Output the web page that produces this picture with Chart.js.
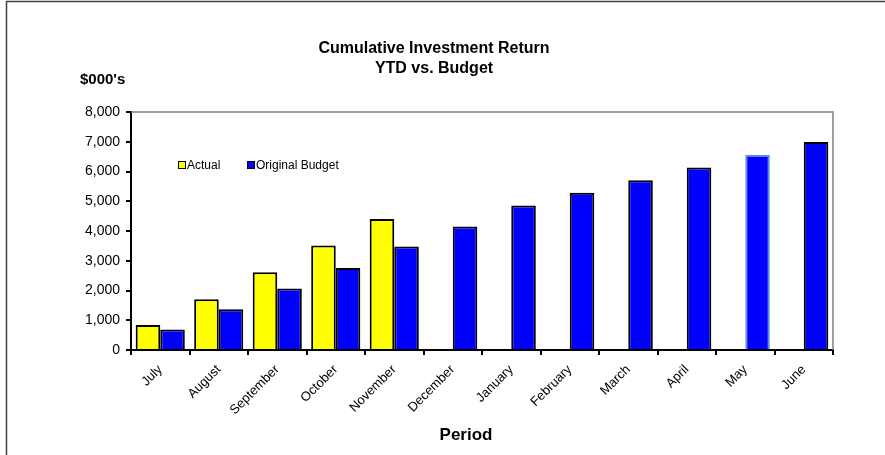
<!DOCTYPE html>
<html lang="en">
<head>
    <meta charset="UTF-8">
    <title>Cumulative Investment Return</title>
    <script src="https://cdn.jsdelivr.net/npm/chart.js"></script>
    <style>
        html, body {
            margin: 0;
            padding: 0;
            background: #fff;
        }
        .chart-box {
            position: relative;
            width: 885px;
            height: 455px;
        }
    </style>
</head>
<body>
    <div class="chart-box">
        <canvas id="returnChart" width="885" height="455"></canvas>
    </div>

    <script>
    // data ($000's)
    const months = ['July', 'August', 'September', 'October', 'November', 'December',
                    'January', 'February', 'March', 'April', 'May', 'June'];
    const actual = [840, 1710, 2615, 3510, 4400, null, null, null, null, null, null, null];
    const budget = [690, 1370, 2065, 2760, 3480, 4150, 4855, 5285, 5710, 6135, 6560, 6990];
    const yTicks = [0, 1000, 2000, 3000, 4000, 5000, 6000, 7000, 8000];

    const FONT = '"Liberation Sans", Arial, sans-serif';

    // May budget bar has a light blue outline in the original
    const budgetBorders = months.map(m => m === 'May' ? '#5b8fd6' : '#000000');

    // titles, frame, plot border and the in-plot legend
    const decor = {
        id: 'decor',
        beforeDatasetsDraw(chart) {
            const ctx = chart.ctx;
            const a = chart.chartArea;
            ctx.save();
            ctx.strokeStyle = '#808080';
            ctx.lineWidth = 1.5;
            ctx.beginPath();
            ctx.moveTo(a.left, a.top);
            ctx.lineTo(a.right, a.top);
            ctx.lineTo(a.right, a.bottom);
            ctx.stroke();
            ctx.restore();
        },
        afterDraw(chart) {
            const ctx = chart.ctx;
            ctx.save();
            // outer frame (left and top edges are visible)
            ctx.strokeStyle = '#404040';
            ctx.lineWidth = 1.5;
            ctx.beginPath();
            ctx.moveTo(6.5, 455);
            ctx.lineTo(6.5, 1.5);
            ctx.lineTo(885, 1.5);
            ctx.stroke();

            ctx.fillStyle = '#000';
            ctx.textAlign = 'center';
            ctx.textBaseline = 'middle';
            ctx.font = 'bold 16px ' + FONT;
            ctx.fillText('Cumulative Investment Return', 434, 49);
            ctx.fillText('YTD vs. Budget', 434, 69);
            ctx.font = 'bold 17px ' + FONT;
            ctx.fillText('Period', 466, 435);

            ctx.textAlign = 'left';
            ctx.font = 'bold 15px ' + FONT;
            ctx.fillText("$000's", 80, 80);

            // legend
            ctx.font = '12px ' + FONT;
            const items = [
                {x: 178, ds: chart.data.datasets[0]},
                {x: 247, ds: chart.data.datasets[1]}
            ];
            items.forEach(it => {
                ctx.fillStyle = it.ds.backgroundColor;
                ctx.fillRect(it.x, 161.5, 7, 7);
                ctx.strokeStyle = '#000';
                ctx.lineWidth = 1;
                ctx.strokeRect(it.x + 0.5, 161.5, 7, 7);
                ctx.fillStyle = '#000';
                ctx.fillText(it.ds.label, it.x + 9, 165.5);
            });
            ctx.restore();
        }
    };

    new Chart(document.getElementById('returnChart').getContext('2d'), {
        type: 'bar',
        data: {
            labels: months,
            datasets: [{
                label: 'Actual',
                data: actual,
                backgroundColor: '#ffff00',
                borderColor: '#000000',
                borderWidth: 2,
                categoryPercentage: 0.84,
                barPercentage: 1.0
            }, {
                label: 'Original Budget',
                data: budget,
                backgroundColor: '#0000ff',
                borderColor: budgetBorders,
                borderWidth: 2,
                categoryPercentage: 0.84,
                barPercentage: 1.0
            }]
        },
        options: {
            responsive: false,
            animation: false,
            layout: {
                padding: {top: 112, right: 52, left: 0, bottom: 0}
            },
            plugins: {
                legend: {display: false},
                title: {display: false},
                tooltip: {enabled: false}
            },
            scales: {
                x: {
                    afterFit: s => { s.height = 105; },
                    grid: {
                        offset: true,
                        drawOnChartArea: false,
                        tickLength: 5,
                        color: '#000',
                        lineWidth: 2
                    },
                    border: {color: '#000', width: 2},
                    ticks: {
                        color: '#000',
                        font: {family: FONT, size: 13},
                        minRotation: 45,
                        maxRotation: 45,
                        padding: 7
                    }
                },
                y: {
                    min: 0,
                    max: 8000,
                    afterFit: s => { s.width = 131; },
                    afterBuildTicks: s => { s.ticks = yTicks.map(v => ({value: v})); },
                    grid: {
                        drawOnChartArea: false,
                        tickLength: 5,
                        color: '#000',
                        lineWidth: 2
                    },
                    border: {color: '#000', width: 2},
                    ticks: {
                        color: '#000',
                        font: {family: FONT, size: 14},
                        padding: 6,
                        callback: v => v.toLocaleString('en-US')
                    }
                }
            }
        },
        plugins: [decor]
    });
    </script>
</body>
</html>
